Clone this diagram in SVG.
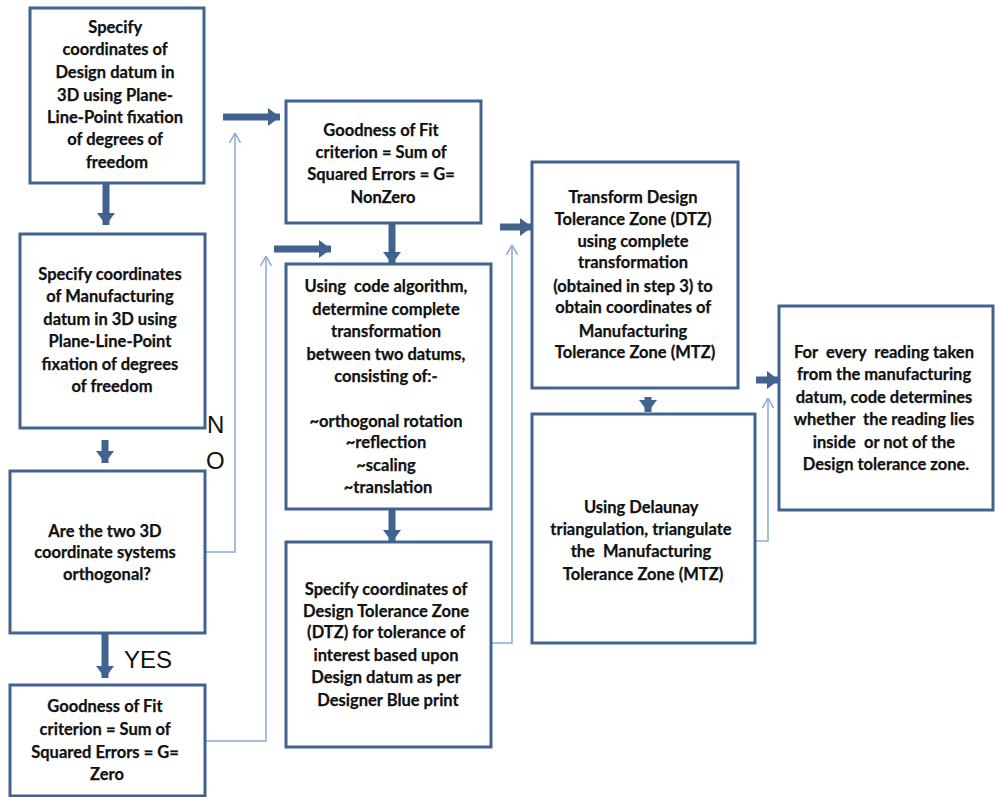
<svg xmlns="http://www.w3.org/2000/svg" width="995" height="797" viewBox="0 0 995 797">
  <style>
    .box { fill: #ffffff; stroke: #41638f; stroke-width: 3; }
    .txt { font-family: Lato, "Liberation Sans", sans-serif; font-weight: bold; font-size: 16.5px; fill: #111111; stroke: #111111; stroke-width: 0.25; text-anchor: middle; }
    .lbl { font-family: "Liberation Sans", Arial, sans-serif; font-size: 24px; fill: #111111; }
    .thick { stroke: #41638f; stroke-width: 7; fill: none; marker-end: url(#head); }
    .thin { stroke: #8aa9d6; stroke-width: 1.5; fill: none; marker-end: url(#open); }
  </style>
  <defs>
    <marker id="head" markerUnits="userSpaceOnUse" viewBox="0 0 12 18" refX="12" refY="9" markerWidth="12" markerHeight="18" orient="auto">
      <path d="M0,0 L12,9 L0,18 Z" fill="#41638f"/>
    </marker>
    <marker id="open" markerUnits="userSpaceOnUse" viewBox="0 0 10 12" refX="10" refY="6" markerWidth="10" markerHeight="12" orient="auto">
      <path d="M0,0.5 L10,6 L0,11.5" fill="none" stroke="#8aa9d6" stroke-width="1.5"/>
    </marker>
  </defs>

  <rect width="995" height="797" fill="#ffffff"/>

  <!-- connectors -->
  <g id="connectors">
    <line class="thick" x1="106" y1="184" x2="106" y2="225"/>
    <line class="thick" x1="223" y1="117" x2="280" y2="117"/>
    <line class="thick" x1="105" y1="440" x2="105" y2="463"/>
    <line class="thick" x1="105" y1="634" x2="105" y2="678"/>
    <line class="thick" x1="274" y1="249" x2="331" y2="249"/>
    <line class="thick" x1="392" y1="224" x2="392" y2="264"/>
    <line class="thick" x1="392" y1="509" x2="392" y2="542"/>
    <line class="thick" x1="500" y1="227" x2="532" y2="227"/>
    <line class="thick" x1="648" y1="397" x2="648" y2="412"/>
    <line class="thick" x1="756" y1="380" x2="779" y2="380"/>

    <polyline class="thin" points="205,552 235,552 235,133"/>
    <polyline class="thin" points="205,741 266,741 266,256"/>
    <polyline class="thin" points="491,643 512,643 512,245"/>
    <polyline class="thin" points="755,541 768,541 768,398"/>
  </g>

  <g id="n1">
    <rect class="box" x="30" y="8" width="174" height="175"/>
    <text class="txt">
      <tspan x="117" y="33">Specify</tspan>
      <tspan x="117" y="55">coordinates of</tspan>
      <tspan x="117" y="78">Design datum in</tspan>
      <tspan x="117" y="101">3D using Plane-</tspan>
      <tspan x="117" y="123">Line-Point fixation</tspan>
      <tspan x="117" y="145">of degrees of</tspan>
      <tspan x="117" y="168">freedom</tspan>
    </text>
  </g>

  <g id="n2">
    <rect class="box" x="20" y="234" width="185" height="194"/>
    <text class="txt">
      <tspan x="112" y="280">Specify coordinates</tspan>
      <tspan x="112" y="302">of Manufacturing</tspan>
      <tspan x="112" y="325">datum in 3D using</tspan>
      <tspan x="112" y="347">Plane-Line-Point</tspan>
      <tspan x="112" y="370">fixation of degrees</tspan>
      <tspan x="112" y="392">of freedom</tspan>
    </text>
  </g>

  <g id="n3">
    <rect class="box" x="10" y="471" width="195" height="162"/>
    <text class="txt">
      <tspan x="107" y="537">Are the two 3D</tspan>
      <tspan x="107" y="558">coordinate systems</tspan>
      <tspan x="107" y="580">orthogonal?</tspan>
    </text>
  </g>

  <g id="n4">
    <rect class="box" x="10" y="685" width="195" height="111"/>
    <text class="txt">
      <tspan x="107" y="712">Goodness of Fit</tspan>
      <tspan x="107" y="735">criterion = Sum of</tspan>
      <tspan x="107" y="758">Squared Errors = G=</tspan>
      <tspan x="107" y="780">Zero</tspan>
    </text>
  </g>

  <g id="n5">
    <rect class="box" x="286" y="101" width="195" height="122"/>
    <text class="txt">
      <tspan x="383" y="136">Goodness of Fit</tspan>
      <tspan x="383" y="158">criterion = Sum of</tspan>
      <tspan x="383" y="180">Squared Errors = G=</tspan>
      <tspan x="383" y="203">NonZero</tspan>
    </text>
  </g>

  <g id="n6">
    <rect class="box" x="286" y="264" width="205" height="245"/>
    <text class="txt">
      <tspan x="388" y="292">Using &#160;code algorithm,</tspan>
      <tspan x="388" y="315">determine complete</tspan>
      <tspan x="388" y="337">transformation</tspan>
      <tspan x="388" y="360">between two datums,</tspan>
      <tspan x="388" y="382">consisting of:-</tspan>
      <tspan x="388" y="427">~orthogonal rotation</tspan>
      <tspan x="388" y="448">~reflection</tspan>
      <tspan x="388" y="471">~scaling</tspan>
      <tspan x="388" y="493">~translation</tspan>
    </text>
  </g>

  <g id="n7">
    <rect class="box" x="286" y="542" width="205" height="205"/>
    <text class="txt">
      <tspan x="388" y="595">Specify coordinates of</tspan>
      <tspan x="388" y="617">Design Tolerance Zone</tspan>
      <tspan x="388" y="638">(DTZ) for tolerance of</tspan>
      <tspan x="388" y="661">interest based upon</tspan>
      <tspan x="388" y="683">Design datum as per</tspan>
      <tspan x="388" y="706">Designer Blue print</tspan>
    </text>
  </g>

  <g id="n8">
    <rect class="box" x="532" y="162" width="206" height="226"/>
    <text class="txt">
      <tspan x="635" y="203">Transform Design</tspan>
      <tspan x="635" y="225">Tolerance Zone (DTZ)</tspan>
      <tspan x="635" y="247">using complete</tspan>
      <tspan x="635" y="268">transformation</tspan>
      <tspan x="635" y="292">(obtained in step 3) to</tspan>
      <tspan x="635" y="313">obtain coordinates of</tspan>
      <tspan x="635" y="337">Manufacturing</tspan>
      <tspan x="635" y="358">Tolerance Zone (MTZ)</tspan>
    </text>
  </g>

  <g id="n9">
    <rect class="box" x="532" y="414" width="223" height="229"/>
    <text class="txt">
      <tspan x="643" y="513">Using Delaunay</tspan>
      <tspan x="643" y="535">triangulation, triangulate</tspan>
      <tspan x="643" y="557">the &#160;Manufacturing</tspan>
      <tspan x="643" y="580">Tolerance Zone (MTZ)</tspan>
    </text>
  </g>

  <g id="n10">
    <rect class="box" x="779" y="306" width="214" height="204"/>
    <text class="txt">
      <tspan x="886" y="358">For &#160;every &#160;reading taken</tspan>
      <tspan x="886" y="380">from the manufacturing</tspan>
      <tspan x="886" y="403">datum, code determines</tspan>
      <tspan x="886" y="425">whether &#160;the reading lies</tspan>
      <tspan x="886" y="448">inside &#160;or not of the</tspan>
      <tspan x="886" y="470">Design tolerance zone.</tspan>
    </text>
  </g>

  <g id="labels">
    <text class="lbl" x="207" y="433">N</text>
    <text class="lbl" x="206" y="469">O</text>
    <text class="lbl" x="124" y="668">YES</text>
  </g>
</svg>
